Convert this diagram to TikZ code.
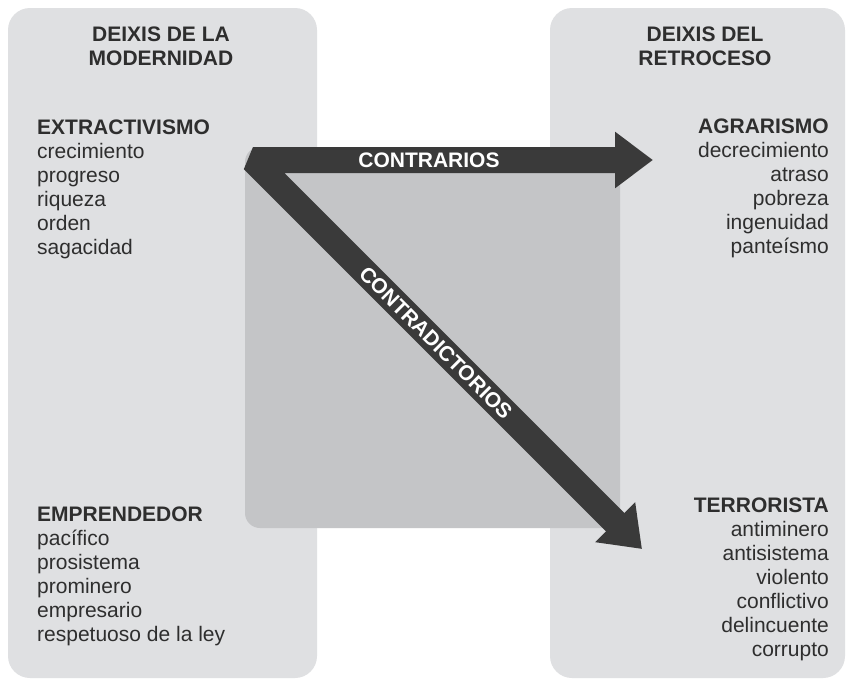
\documentclass[tikz,border=0pt]{standalone}
\usepackage{fontspec}
\setmainfont{Liberation Sans}
\usetikzlibrary{arrows.meta}
\definecolor{panelgray}{HTML}{DFE0E2}
\definecolor{squaregray}{HTML}{C4C5C7}
\definecolor{arrowgray}{HTML}{3A3A3A}
\definecolor{textgray}{HTML}{2E2E2E}

\begin{document}
\begin{tikzpicture}[x=1pt,y=-1pt,line join=bevel,
  panel/.style={fill=panelgray,rounded corners=22pt},
  lista/.style={font=\fontsize{21}{24}\selectfont,text=textgray,inner sep=0pt},
  titulo/.style={font=\fontsize{21}{24}\selectfont\bfseries,text=textgray,inner sep=0pt,align=center},
  etiqueta/.style={font=\fontsize{21}{24}\selectfont\bfseries,text=white,inner sep=0pt},
  punta/.style={arrows={Triangle[length=38pt,width=54pt]-Triangle[length=38pt,width=54pt]}}]
  \useasboundingbox[fill=white] (0,0) rectangle (847,680);
  % Panels
  \fill[panel] (8,8) rectangle (317,678);
  \fill[panel] (550,8) rectangle (845,678);
  \fill[squaregray,rounded corners=15pt] (245,147) rectangle (620,528);
  % Titles
  \node[titulo] (modernidad) at (161,46.5) {DEIXIS DE LA\\MODERNIDAD};
  \node[titulo] (retroceso) at (705,46.5) {DEIXIS DEL\\RETROCESO};
  % Lists
  \node[lista,align=left,anchor=north west] (extractivismo) at (37,120)
    {\textbf{EXTRACTIVISMO}\\crecimiento\\progreso\\riqueza\\orden\\sagacidad};
  \node[lista,align=left,anchor=north west] (emprendedor) at (37,507)
    {\textbf{EMPRENDEDOR}\\pacífico\\prosistema\\prominero\\empresario\\respetuoso de la ley};
  \node[lista,align=right,anchor=north east] (agrarismo) at (829,119)
    {\textbf{AGRARISMO}\\decrecimiento\\atraso\\pobreza\\ingenuidad\\panteísmo};
  \node[lista,align=right,anchor=north east] (terrorista) at (829,498)
    {\textbf{TERRORISTA}\\antiminero\\antisistema\\violento\\conflictivo\\delincuente\\corrupto};
  % Arrows
  \coordinate (vertice) at (253,160);
  \coordinate (contrarios) at (653,160);
  \coordinate (contradictorios) at (642,549);
  \draw[arrowgray,line width=26pt,punta]
    (contrarios) -- node[pos=0.56,etiqueta] {CONTRARIOS} (vertice)
    -- node[pos=0.47,sloped,etiqueta] {CONTRADICTORIOS} (contradictorios);
\end{tikzpicture}
\end{document}
